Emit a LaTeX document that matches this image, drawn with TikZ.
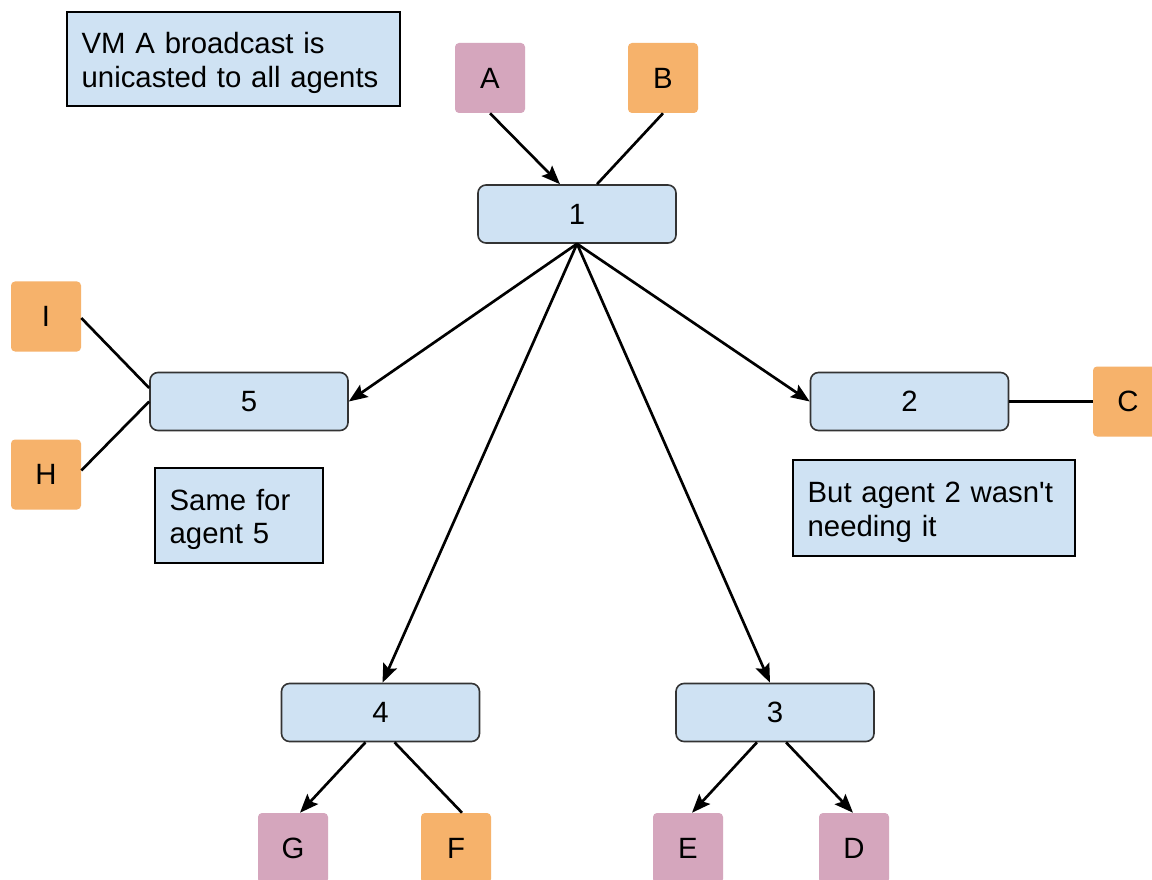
\documentclass[tikz,border=0pt]{standalone}
\usepackage{fontspec}
\setmainfont{Liberation Sans}
\usetikzlibrary{arrows.meta,calc}

\definecolor{boxblue}{HTML}{CFE2F3}
\definecolor{vmpink}{HTML}{D5A6BD}
\definecolor{vmorange}{HTML}{F6B26B}
\definecolor{edgegray}{HTML}{333333}

% extra head room above the first line of a memo
\newcommand{\memotop}{\rule{0pt}{22pt}}

\begin{document}
\begin{tikzpicture}[x=0.75pt,y=-0.75pt,
  every node/.style={font=\fontsize{22}{25}\selectfont},
  hostbox/.style={draw=edgegray, line width=1.2pt, fill=boxblue,
    rounded corners=6pt, minimum width=148.5pt, minimum height=43.5pt, inner sep=0pt},
  vm/.style={fill=#1, rounded corners=3pt, minimum size=52.5pt, inner sep=0pt},
  memo/.style={draw=black, line width=2pt, fill=boxblue, align=left,
    inner xsep=11pt, inner ysep=0pt},
  conn/.style={line width=2pt, draw=black},
  flow/.style={conn, -{Stealth[length=14pt,width=11pt,inset=2.5pt]}}]

\useasboundingbox (0,0) rectangle (1152,880);
\clip (0,0) rectangle (1152,880);
\fill[white] (0,0) rectangle (1152,880);

% notes
\node[memo, text width=227.75pt, minimum height=70.5pt] (noteA) at (233.5,59)
  {\memotop VM A broadcast is\\unicasted to all agents};
\node[memo, text width=104pt, minimum height=71.25pt] (noteFive) at (239,515.5)
  {\memotop Same for\\agent 5};
\node[memo, text width=189.5pt, minimum height=72pt] (noteTwo) at (934,508)
  {\memotop But agent 2 wasn\textquotesingle t\\needing it};

% agents
\node[hostbox] (n1) at (577,214) {1};
\node[hostbox] (n5) at (249,401.5) {5};
\node[hostbox] (n2) at (909.5,401.5) {2};
\node[hostbox] (n4) at (380.5,712.5) {4};
\node[hostbox] (n3) at (775,712.5) {3};

% VMs
\node[vm=vmpink] (A) at (490,78) {A};
\node[vm=vmorange] (B) at (663,78) {B};
\node[vm=vmorange] (I) at (46,316.5) {I};
\node[vm=vmorange] (H) at (46,474.5) {H};
\node[vm=vmorange] (C) at (1128,401.5) {C};
\node[vm=vmpink] (G) at (293,848) {G};
\node[vm=vmorange] (F) at (456,848) {F};
\node[vm=vmpink] (E) at (688,848) {E};
\node[vm=vmpink] (D) at (854,848) {D};

% links
\draw[flow] (A.south) -- ($(n1.north)+(-17,0)$);
\draw[conn] (B.south) -- ($(n1.north)+(20,0)$);
\draw[flow] (n1.south) -- (n5.east);
\draw[flow] (n1.south) -- (n2.west);
\draw[flow] (n1.south) -- ($(n4.north)+(2,0)$);
\draw[flow] (n1.south) -- ($(n3.north)+(-5,0)$);
\draw[conn] ($(I.east)+(0,1.5)$) -- ($(n5.west)+(0,-13.5)$);
\draw[conn] ($(H.east)+(0,-4)$) -- (n5.west);
\draw[conn] (n2.east) -- (C.west);
\draw[flow] ($(n4.south)+(-15,0)$) -- ($(G.north)+(7,0)$);
\draw[conn] ($(n4.south)+(14,0)$) -- ($(F.north)+(6,0)$);
\draw[flow] ($(n3.south)+(-18,0)$) -- ($(E.north)+(4,0)$);
\draw[flow] ($(n3.south)+(11,0)$) -- ($(D.north)+(-1,0)$);
\end{tikzpicture}
\end{document}
